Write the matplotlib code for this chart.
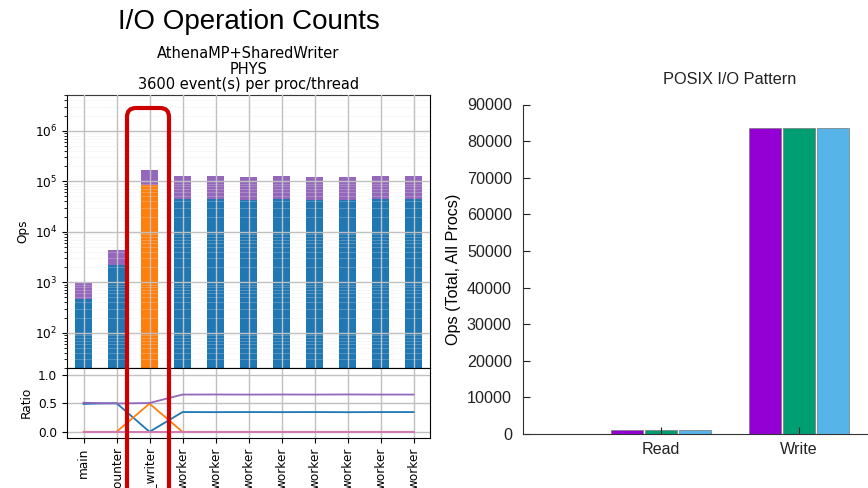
import matplotlib.pyplot as plt
import numpy as np
from matplotlib.patches import FancyBboxPatch

# left chart: per-process op counts (AthenaMP + SharedWriter)
procs = ['main', 'evt_counter', 'shared_writer'] + ['worker'] * 8
read_ops = [470, 2150, 0, 44000, 43500, 43000, 43500, 43000, 42000, 44000, 44000]
write_ops = [0, 0, 84000, 0, 0, 0, 0, 0, 0, 0, 0]
seek_ops = [0] * 11
stat_ops = [0] * 11
meta_ops = [490, 2120, 86000, 83000, 82500, 81000, 82500, 81000, 80000, 83000, 83000]

# right chart: POSIX totals
posix_cats = ['Read', 'Write']
run_a = [1000, 83500]
run_b = [1000, 83500]
run_c = [1000, 83500]

fig = plt.figure(figsize=(8.68, 4.88), dpi=100)

# ---------- left: stacked log bars + ratio ----------
W, H = 868.0, 488.0
ax = fig.add_axes([67 / W, 1 - 368 / H, 363 / W, 273 / H])
axr = fig.add_axes([67 / W, 1 - 437.5 / H, 363 / W, 69.5 / H], sharex=ax)

fs = 8.7
x = np.arange(len(procs))
series = [(read_ops, '#1f77b4'), (write_ops, '#ff7f0e'), (seek_ops, '#2ca02c'),
          (stat_ops, '#e377c2'), (meta_ops, '#9467bd')]
bottom = np.zeros(len(procs))
for vals, col in series:
    v = np.array(vals, dtype=float)
    ax.bar(x, v, 0.52, bottom=bottom, color=col, edgecolor='none')
    bottom = bottom + v
total = bottom

ax.set_yscale('log')
ax.set_ylim(20, 5.1e6)
ax.set_xlim(-0.5, 10.5)
ax.grid(True, which='major', color='#c0c0c0', linewidth=1.0)
ax.grid(True, which='minor', axis='y', color='#e6e6e6', linewidth=0.4, alpha=0.45)
ax.set_axisbelow(False)
ax.set_ylabel('Ops', fontsize=fs)
ax.tick_params(labelsize=fs, labelbottom=False)
ax.set_title('AthenaMP+SharedWriter\nPHYS\n3600 event(s) per proc/thread',
             fontsize=10.5, linespacing=1.05, pad=4)

order = [(read_ops, '#1f77b4'), (write_ops, '#ff7f0e'), (seek_ops, '#2ca02c'),
         (meta_ops, '#9467bd'), (stat_ops, '#e377c2')]
for vals, col in order:
    axr.plot(x, np.array(vals) / total, color=col, linewidth=1.3)
axr.set_ylim(-0.1, 1.12)
axr.set_yticks([0.0, 0.5, 1.0])
axr.grid(True, color='#c0c0c0', linewidth=1.0)
axr.set_ylabel('Ratio', fontsize=fs)
axr.set_xticks(x)
axr.set_xticklabels(procs, rotation=90, fontsize=fs)
axr.tick_params(labelsize=fs)

fig.text(249 / W, 1 - 22 / H, 'I/O Operation Counts', fontsize=20,
         family='Liberation Sans', ha='center', va='center')

# red highlight around writer
box = FancyBboxPatch((1.27, -0.3), 0.42, 3.80 + 0.3,
                     boxstyle='round,pad=0,rounding_size=0.09',
                     transform=fig.dpi_scale_trans, fill=False,
                     edgecolor='#cc0000', linewidth=3.0, clip_on=False, zorder=10)
fig.add_artist(box)

# ---------- right: POSIX I/O pattern ----------
axp = fig.add_axes([523 / W, 1 - 434 / H, 345 / W, (434 - 104.5) / H])
xp = np.arange(1, len(posix_cats) + 1)
off = 0.245
bw = 0.23
colors = ['#9400d3', '#009e73', '#56b4e9']
for k, (vals, col) in enumerate([(run_a, colors[0]), (run_b, colors[1]), (run_c, colors[2])]):
    axp.bar(xp + (k - 1) * off, vals, bw, color=col, edgecolor='#777777', linewidth=0.5)

rfont = {'family': 'Liberation Sans', 'size': 11.6}
axp.set_xlim(0, 2.5)
axp.set_ylim(0, 90000)
axp.set_yticks(np.arange(0, 90001, 10000))
axp.set_yticklabels([str(v) for v in range(0, 90001, 10000)], fontdict=rfont)
axp.set_xticks(xp)
axp.set_xticklabels(posix_cats, fontdict=rfont)
axp.tick_params(direction='in', length=5, pad=8, colors='#222222')
axp.tick_params(axis='x', pad=6)
for s in ['top', 'right']:
    axp.spines[s].set_visible(False)
for s in ['left', 'bottom']:
    axp.spines[s].set_color('#333333')
axp.set_ylabel('Ops (Total, All Procs)', fontdict=rfont, labelpad=4)
fig.text(730 / W, 1 - 80 / H, 'POSIX I/O Pattern', fontsize=11.8,
         family='Liberation Sans', ha='center', va='center', color='#222222')

fig.savefig('out.png', dpi=100)
